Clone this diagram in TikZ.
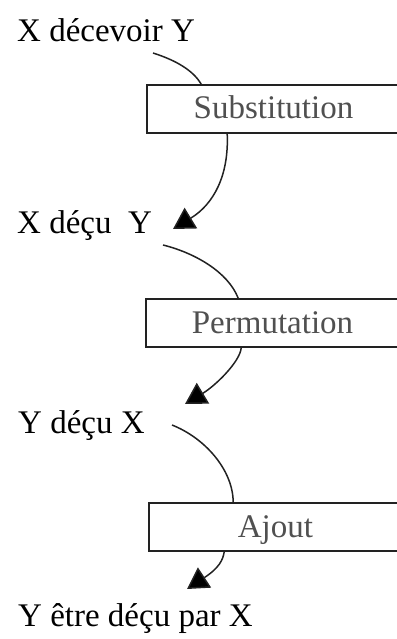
\documentclass[tikz,border=0pt]{standalone}
\usepackage{fontspec}
\setmainfont{Liberation Serif}
\usetikzlibrary{arrows.meta}
\definecolor{linegray}{HTML}{222222}
\definecolor{textgray}{HTML}{505050}
\begin{document}
\begin{tikzpicture}[x=1pt,y=-1pt,
  lbl/.style={anchor=base west, inner sep=0pt, font=\fontsize{33}{40}\selectfont, text=black},
  opbox/.style={draw=linegray, line width=1.6pt, fill=white, inner xsep=0pt, inner ysep=0pt,
    minimum width=253pt, text height=34pt, text depth=14pt, font=\fontsize{33}{40}\selectfont, text=textgray},
  conn/.style={draw=linegray, line width=1.5pt},
  arr/.style={conn, -{Triangle[length=21pt,width=24pt,fill=black]}}]
\useasboundingbox (0,0) rectangle (396,639);

% labels
\node[lbl] (t1) at (17,42) {X décevoir Y};
\node[lbl] (t2) at (17,233) {X déçu\ \ Y};
\node[lbl] (t3) at (18,433) {Y déçu X};
\node[lbl] (t4) at (18,626) {Y être déçu par X};

% operation boxes
\node[opbox] (b1) at (273.5,109) {Substitution};
\node[opbox] (b2) at (272.5,323) {Permutation};
\node[opbox] (b3) at (275.5,527) {Ajout};

% free ends
\coordinate (s1) at ([shift={(136,11)}]t1.base west);
\coordinate (s2) at ([shift={(146,12)}]t2.base west);
\coordinate (s3) at ([shift={(154,-8)}]t3.base west);
\coordinate (tip1) at ([shift={(156,-4)}]t2.base west);
\coordinate (tip2) at ([shift={(167,-29)}]t3.base west);
\coordinate (tip3) at ([shift={(169,-37)}]t4.base west);

% connectors
\draw[conn] (s1) .. controls (175,60) and (193,70) .. ([xshift=55pt]b1.north west);
\draw[arr] ([xshift=81pt]b1.south west) .. controls (229,175) and (214,204) .. (tip1);

\draw[conn] (s2) .. controls (195,253) and (228,272) .. ([xshift=93pt]b2.north west);
\draw[arr] ([xshift=96pt]b2.south west) .. controls (240,362) and (215,386) .. (tip2);

\draw[conn] (s3) .. controls (205,438) and (233,470) .. ([xshift=85pt]b3.north west);
\draw[arr] ([xshift=76pt]b3.south west) .. controls (223,560) and (219,568) .. (tip3);
\end{tikzpicture}
\end{document}
